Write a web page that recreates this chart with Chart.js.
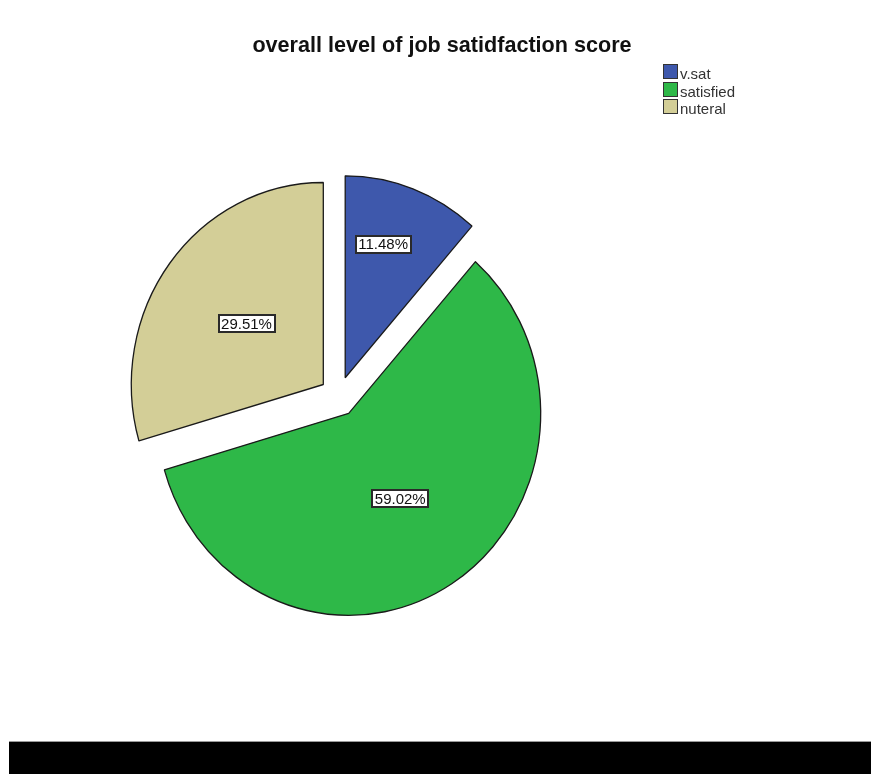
<!DOCTYPE html>
<html>
<head>
<meta charset="utf-8">
<title>overall level of job satidfaction score</title>
<script src="https://cdn.jsdelivr.net/npm/chart.js@4.4.1/dist/chart.umd.min.js"></script>
<style>
  html, body { margin: 0; padding: 0; background: #fff; }
  #wrap { width: 871px; height: 741px; position: relative; }
  #band { margin-left: 9px; width: 862px; height: 32px; background: #000; border-top: 1px solid #9a9a9a; }
</style>
</head>
<body>
<div id="wrap"><canvas id="chart-pie" width="871" height="741"></canvas></div>
<div id="band"></div>
<script>
// counts per answer (61 respondents)
const categories = ['v.sat', 'satisfied', 'nuteral'];
const counts = [7, 36, 18];
const colors = ['#3E58AC', '#2EB848', '#D3CE97'];
const chartTitle = 'overall level of job satidfaction score';

// look of the exploded pie
const gap = 19;          // distance every slice is pulled out
const stretchY = 1.052;  // the original pie is a bit taller than wide
const labelRadius = [0.69, 0.5, 0.5];
const labelTurn = [-4, 0, 0];

const total = counts.reduce((a, b) => a + b, 0);

function sliceCenter(arc) {
  const mid = (arc.startAngle + arc.endAngle) / 2;
  return {
    x: arc.x + Math.cos(mid) * gap,
    y: arc.y + Math.sin(mid) * gap * stretchY
  };
}

const explodePlugin = {
  id: 'explode',
  beforeDatasetDraw(chart, args) {
    const ctx = chart.ctx;
    args.meta.data.forEach(arc => {
      const mid = (arc.startAngle + arc.endAngle) / 2;
      ctx.save();
      ctx.translate(arc.x, arc.y);
      ctx.scale(1, stretchY);
      ctx.translate(-arc.x, -arc.y);
      ctx.translate(Math.cos(mid) * gap, Math.sin(mid) * gap);
      arc.draw(ctx);
      ctx.restore();
    });
    return false;
  }
};

const textPlugin = {
  id: 'texts',
  afterDraw(chart) {
    const ctx = chart.ctx;
    const arcs = chart.getDatasetMeta(0).data;
    ctx.save();

    // slice labels
    ctx.font = '15px "Liberation Sans", Arial, sans-serif';
    ctx.textAlign = 'center';
    ctx.textBaseline = 'middle';
    arcs.forEach((arc, i) => {
      const c = sliceCenter(arc);
      const a = (arc.startAngle + arc.endAngle) / 2 + labelTurn[i] * Math.PI / 180;
      const r = arc.outerRadius * labelRadius[i];
      const x = c.x + Math.cos(a) * r;
      const y = c.y + Math.sin(a) * r * stretchY;
      const txt = (counts[i] / total * 100).toFixed(2) + '%';
      const w = Math.round(ctx.measureText(txt).width + 5);
      const h = 17;
      const bx = Math.round(x - w / 2);
      const by = Math.round(y - h / 2);
      ctx.fillStyle = '#fff';
      ctx.fillRect(bx, by, w, h);
      ctx.strokeStyle = '#2a2a2a';
      ctx.lineWidth = 2;
      ctx.strokeRect(bx, by, w, h);
      ctx.fillStyle = '#111';
      ctx.fillText(txt, x, y + 1);
    });

    // title
    ctx.font = 'bold 21.6px "Liberation Sans", Arial, sans-serif';
    ctx.textAlign = 'center';
    ctx.textBaseline = 'alphabetic';
    ctx.fillStyle = '#111';
    ctx.fillText(chartTitle, 442, 52);

    // legend
    ctx.font = '15px "Liberation Sans", Arial, sans-serif';
    ctx.textAlign = 'left';
    ctx.lineWidth = 1;
    categories.forEach((name, i) => {
      const top = Math.round(64 + i * 17.7);
      ctx.fillStyle = colors[i];
      ctx.fillRect(663.5, top + 0.5, 14, 14);
      ctx.strokeStyle = '#333';
      ctx.strokeRect(663.5, top + 0.5, 14, 14);
      ctx.fillStyle = '#333';
      ctx.fillText(name, 680, top + 15);
    });
    ctx.restore();
  }
};

const ctx = document.getElementById('chart-pie').getContext('2d');
new Chart(ctx, {
  type: 'pie',
  data: {
    labels: categories,
    datasets: [{
      data: counts,
      backgroundColor: colors,
      borderColor: '#1a1a1a',
      borderWidth: 1.3
    }]
  },
  options: {
    responsive: false,
    animation: false,
    radius: 192,
    layout: { padding: { left: 0, right: 194, top: 52, bottom: 0 } },
    plugins: {
      legend: { display: false },
      title: { display: false },
      tooltip: { enabled: false }
    }
  },
  plugins: [explodePlugin, textPlugin]
});
</script>
</body>
</html>
